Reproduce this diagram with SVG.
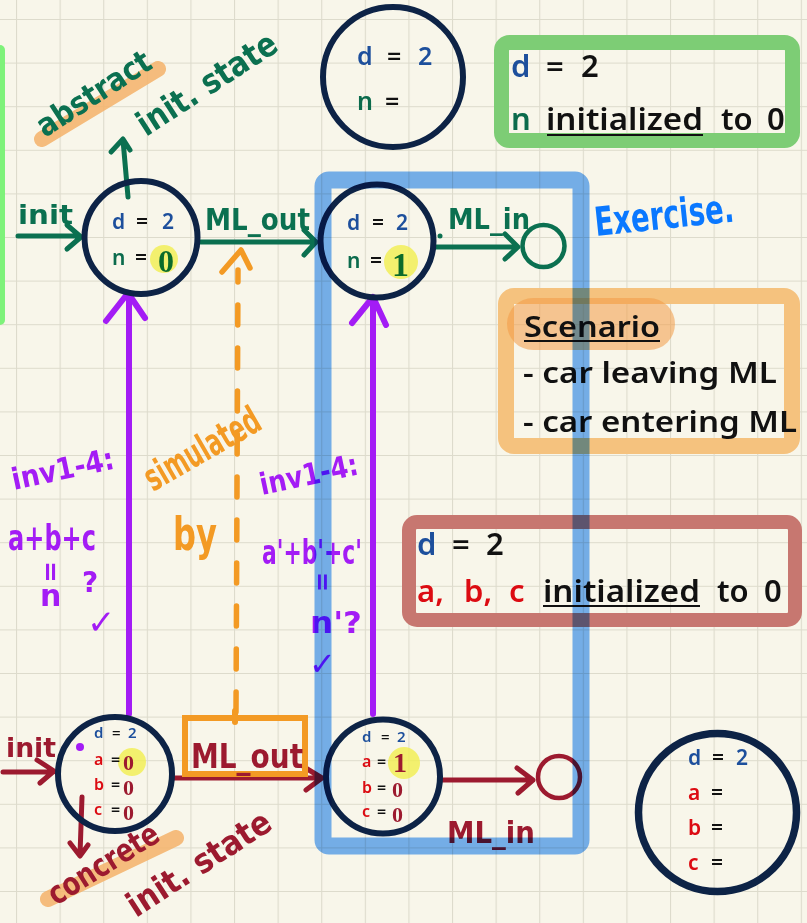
<svg xmlns="http://www.w3.org/2000/svg" width="807" height="923" viewBox="0 0 807 923">
<defs>
<pattern id="grid" x="16" y="19" width="43.6" height="43.6" patternUnits="userSpaceOnUse">
<path d="M0 0 H43.6 M0 0 V43.6" fill="none" stroke="#dddbcc" stroke-width="2.2"/>
</pattern>
<style>
.bg{fill:#f8f6ea}
.ring{fill:none;stroke:#0d2346;stroke-width:6}
.pt{font-family:"Noto Sans","Liberation Sans",sans-serif;font-weight:600}
.blu{fill:#1d4f9c}
.grn{fill:#0b6b4c}
.red{fill:#dc0b12}
.blk{fill:#111}
.hw{font-family:"DejaVu Sans","Liberation Sans",sans-serif;font-weight:bold}
.hwg{fill:#0b7050}
.hwr{fill:#9c1a2f}
.hwp{fill:#a31cf5}
.hwo{fill:#f39a24}
.lg{fill:none;stroke:#0b7050;stroke-width:5;stroke-linecap:round;stroke-linejoin:round}
.lr{fill:none;stroke:#9c1a2f;stroke-width:5;stroke-linecap:round;stroke-linejoin:round}
.lp{fill:none;stroke:#a31cf5;stroke-width:6;stroke-linecap:round;stroke-linejoin:round}
.lo{fill:none;stroke:#f39a24;stroke-width:5.5;stroke-linecap:round;stroke-linejoin:round}
.hl{fill:#f1ef4f;opacity:0.8}
.val{font-family:"Liberation Serif","DejaVu Serif",serif;font-weight:bold}
.mul{mix-blend-mode:multiply}
</style>
</defs>
<rect class="bg" x="0" y="0" width="807" height="923"/>
<rect x="0" y="0" width="807" height="923" fill="url(#grid)"/>

<!-- side green bar -->
<rect x="-6" y="45" width="11" height="280" rx="5" fill="#7ef27a"/>

<!-- legend boxes -->
<g id="box-abstract-init">
<rect x="501.5" y="42.5" width="291" height="98" rx="8" fill="none" stroke="#7dcd75" stroke-width="15"/>
<text class="pt" x="511" y="77" font-size="31"><tspan class="blu">d</tspan><tspan class="blk" x="546">=</tspan><tspan class="blk" x="581">2</tspan></text>
<text class="pt" x="511" y="130" font-size="31"><tspan class="grn">n</tspan><tspan class="blk" x="546" textLength="157" lengthAdjust="spacingAndGlyphs">initialized</tspan><tspan class="blk" x="721">to</tspan><tspan class="blk" x="767">0</tspan></text>
<line x1="547" y1="135" x2="703" y2="135" stroke="#111" stroke-width="1.8"/>
</g>

<g id="box-scenario">
<rect x="506" y="296" width="286" height="150" rx="8" fill="none" stroke="#f5c27e" stroke-width="16"/>
<rect x="507" y="298" width="168" height="52" rx="26" fill="#f29a45" opacity="0.55"/>
<text class="pt blk" x="524" y="337" font-size="29" textLength="136" lengthAdjust="spacingAndGlyphs">Scenario</text>
<line x1="524" y1="341" x2="660" y2="341" stroke="#111" stroke-width="1.8"/>
<text class="pt blk" x="523" y="383" font-size="29" textLength="254" lengthAdjust="spacingAndGlyphs">- car leaving ML</text>
<text class="pt blk" x="523" y="432" font-size="29" textLength="274" lengthAdjust="spacingAndGlyphs">- car entering ML</text>
</g>

<g id="box-concrete-init">
<rect x="409" y="522" width="386" height="98" rx="8" fill="none" stroke="#c77770" stroke-width="14"/>
<text class="pt" x="417" y="555" font-size="31"><tspan class="blu">d</tspan><tspan class="blk" x="452">=</tspan><tspan class="blk" x="486">2</tspan></text>
<text class="pt" x="417" y="602" font-size="31"><tspan class="red">a,</tspan><tspan class="red" x="464">b,</tspan><tspan class="red" x="509">c</tspan><tspan class="blk" x="543" textLength="157" lengthAdjust="spacingAndGlyphs">initialized</tspan><tspan class="blk" x="717">to</tspan><tspan class="blk" x="764">0</tspan></text>
<line x1="543" y1="606" x2="700" y2="606" stroke="#111" stroke-width="1.8"/>
</g>

<!-- handwritten annotations -->
<g id="note-abstract-init">
<line x1="42" y1="139" x2="158" y2="69" stroke="#f5b36a" stroke-width="16" stroke-linecap="round" opacity="0.85"/>
<text class="hw hwg" font-size="32" transform="translate(45,138) rotate(-33)" textLength="130" lengthAdjust="spacingAndGlyphs">abstract</text>
<text class="hw hwg" font-size="34" transform="translate(146,137) rotate(-33)" textLength="160" lengthAdjust="spacingAndGlyphs">init. state</text>
<path class="lg" d="M128 197 L123 140 M111 152 L123 139 L130 150"/>
</g>

<g id="note-exercise">
<text class="hw" fill="#0a78ff" font-size="40" transform="translate(596,236) rotate(-6)" textLength="140" lengthAdjust="spacingAndGlyphs">Exercise.</text>
</g>

<g id="note-simulated">
<text class="hw hwo" font-size="38" transform="translate(153,492) rotate(-30)" textLength="128" lengthAdjust="spacingAndGlyphs">simulated</text>
<text class="hw hwo" font-size="46" x="173" y="550" textLength="44" lengthAdjust="spacingAndGlyphs">by</text>
</g>

<g id="note-inv-left">
<text class="hw hwp" font-size="30" transform="translate(14,490) rotate(-12)" textLength="104" lengthAdjust="spacingAndGlyphs">inv1-4:</text>
<text class="hw hwp" font-size="36" x="8" y="550" textLength="88" lengthAdjust="spacingAndGlyphs">a+b+c</text>
<text class="hw hwp" font-size="26" transform="translate(42,561) rotate(90)">=</text>
<text class="hw hwp" font-size="30" x="40" y="606">n</text>
<text class="hw hwp" font-size="28" x="82" y="592">?</text>
<text class="hw hwp" font-size="34" x="87" y="634">✓</text>
</g>

<g id="note-inv-right">
<text class="hw hwp" font-size="30" transform="translate(262,495) rotate(-12)" textLength="100" lengthAdjust="spacingAndGlyphs">inv1-4:</text>
<text class="hw hwp" font-size="34" x="262" y="564" textLength="100" lengthAdjust="spacingAndGlyphs">a'+b'+c'</text>
<text class="hw hwp" font-size="24" transform="translate(314,572) rotate(90)">=</text>
<text class="hw hwp" font-size="30" x="310" y="633" textLength="52" lengthAdjust="spacingAndGlyphs">n'?</text>
<text class="hw hwp" font-size="32" x="309" y="675">✓</text>
</g>

<g id="note-concrete-init">
<line x1="48" y1="899" x2="176" y2="838" stroke="#f5b36a" stroke-width="16" stroke-linecap="round" opacity="0.85"/>
<text class="hw hwr" font-size="32" transform="translate(56,906) rotate(-32)" textLength="125" lengthAdjust="spacingAndGlyphs">concrete</text>
<text class="hw hwr" font-size="34" transform="translate(136,918) rotate(-33)" textLength="165" lengthAdjust="spacingAndGlyphs">init. state</text>
<path class="lr" d="M82 797 L80 855 M70 843 L80 856 L88 845"/>
</g>

<!-- connectors -->
<g id="connectors">
<path class="lg" d="M18 236 H80 M67 225 L81 237 L67 249"/>
<text class="hw hwg" font-size="26" x="18" y="224" textLength="55" lengthAdjust="spacingAndGlyphs">init</text>
<path class="lg" d="M200 242 H315 M304 230 L316 242 L304 255"/>
<text class="hw hwg" font-size="30" x="205" y="230" textLength="105" lengthAdjust="spacingAndGlyphs">ML_out</text>
<path class="lg" d="M434 247 H517 M505 234 L518 247 L505 259"/>
<circle cx="440" cy="236" r="2.5" fill="#0b7050"/>
<text class="hw hwg" font-size="28" x="448" y="229" textLength="82" lengthAdjust="spacingAndGlyphs">ML_in</text>

<path class="lp" d="M129 714 V296 M106 321 L128 293 L145 318"/>
<path class="lp" d="M373 714 V298 M352 323 L373 297 L386 325"/>

<path class="lo" d="M236 712 L238 270" stroke-dasharray="20 23"/>
<path class="lo" d="M222 272 L241 250 L250 268"/>

<path class="lr" d="M3 772 H53 M37 760 L54 771 L40 783"/>
<text class="hw hwr" font-size="26" x="6" y="757" textLength="50" lengthAdjust="spacingAndGlyphs">init</text>
<path class="lr" d="M172 778 H322 M304 767 L322 778 L306 790"/>
<rect x="185" y="718" width="120" height="56" fill="none" stroke="#f39a24" stroke-width="6"/>
<line x1="235" y1="711" x2="235" y2="722" stroke="#f39a24" stroke-width="6" stroke-linecap="round"/>
<text class="hw hwr" font-size="34" x="191" y="768" textLength="112" lengthAdjust="spacingAndGlyphs">ML_out</text>
<path class="lr" d="M440 780 H533 M517 768 L533 780 L518 793"/>
<text class="hw hwr" font-size="30" x="447" y="843" textLength="88" lengthAdjust="spacingAndGlyphs">ML_in</text>
</g>

<!-- nodes -->
<g id="node-abstract-template">
<circle class="ring" cx="393" cy="77" r="70"/>
<text class="pt" x="357" y="65" font-size="25"><tspan class="blu">d</tspan><tspan class="blk" x="387">=</tspan><tspan class="blu" x="418">2</tspan></text>
<text class="pt" x="357" y="110" font-size="25"><tspan class="grn">n</tspan><tspan class="blk" x="385">=</tspan></text>
</g>

<g id="node-abstract-0">
<circle class="ring" cx="141" cy="237.5" r="56.5"/>
<circle class="hl" cx="164" cy="259" r="14"/>
<text class="pt" x="112" y="229" font-size="21"><tspan class="blu">d</tspan><tspan class="blk" x="136">=</tspan><tspan class="blu" x="162">2</tspan></text>
<text class="pt" x="112" y="265" font-size="21"><tspan class="grn">n</tspan><tspan class="blk" x="135">=</tspan></text>
<text class="val" fill="#0a6b2a" x="158" y="272" font-size="32">0</text>
</g>

<g id="node-abstract-1">
<circle class="ring" cx="377" cy="241" r="56.5"/>
<circle class="hl" cx="401" cy="262" r="17"/>
<text class="pt" x="347" y="230" font-size="21"><tspan class="blu">d</tspan><tspan class="blk" x="372">=</tspan><tspan class="blu" x="396">2</tspan></text>
<text class="pt" x="347" y="268" font-size="21"><tspan class="grn">n</tspan><tspan class="blk" x="370">=</tspan></text>
<text class="val" fill="#0a6b2a" x="392" y="276" font-size="34">1</text>
</g>

<g id="node-abstract-final">
<circle cx="543.5" cy="246" r="21" fill="none" stroke="#0b7050" stroke-width="4.5"/>
</g>

<g id="node-concrete-template">
<circle cx="717.5" cy="812.5" r="79" fill="none" stroke="#0d2346" stroke-width="7.5"/>
<text class="pt" x="688" y="765" font-size="21"><tspan class="blu">d</tspan><tspan class="blk" x="712">=</tspan><tspan class="blu" x="736">2</tspan></text>
<text class="pt" x="688" y="800" font-size="21"><tspan class="red">a</tspan><tspan class="blk" x="711">=</tspan></text>
<text class="pt" x="688" y="835" font-size="21"><tspan class="red">b</tspan><tspan class="blk" x="711">=</tspan></text>
<text class="pt" x="688" y="870" font-size="21"><tspan class="red">c</tspan><tspan class="blk" x="711">=</tspan></text>
</g>

<g id="node-concrete-0">
<circle class="ring" cx="115" cy="774" r="57"/>
<circle cx="80" cy="747" r="4" fill="#a31cf5"/>
<circle class="hl" cx="132" cy="762" r="14"/>
<text class="pt" x="94" y="738" font-size="15"><tspan class="blu">d</tspan><tspan class="blk" x="112">=</tspan><tspan class="blu" x="128">2</tspan></text>
<text class="pt" x="94" y="765" font-size="16"><tspan class="red">a</tspan><tspan class="blk" x="111">=</tspan></text>
<text class="pt" x="94" y="790" font-size="16"><tspan class="red">b</tspan><tspan class="blk" x="111">=</tspan></text>
<text class="pt" x="94" y="815" font-size="16"><tspan class="red">c</tspan><tspan class="blk" x="111">=</tspan></text>
<text class="val hwr" x="123" y="770" font-size="22">0</text>
<text class="val hwr" x="123" y="795" font-size="22">0</text>
<text class="val hwr" x="123" y="820" font-size="22">0</text>
</g>

<g id="node-concrete-1">
<circle class="ring" cx="383" cy="776.5" r="57"/>
<circle class="hl" cx="404" cy="763" r="16"/>
<text class="pt" x="362" y="742" font-size="15"><tspan class="blu">d</tspan><tspan class="blk" x="381">=</tspan><tspan class="blu" x="397">2</tspan></text>
<text class="pt" x="362" y="767" font-size="16"><tspan class="red">a</tspan><tspan class="blk" x="377">=</tspan></text>
<text class="pt" x="362" y="793" font-size="16"><tspan class="red">b</tspan><tspan class="blk" x="377">=</tspan></text>
<text class="pt" x="362" y="817" font-size="16"><tspan class="red">c</tspan><tspan class="blk" x="377">=</tspan></text>
<text class="val hwr" x="393" y="772" font-size="28">1</text>
<text class="val hwr" x="392" y="797" font-size="22">0</text>
<text class="val hwr" x="392" y="822" font-size="22">0</text>
</g>

<g id="node-concrete-final">
<circle cx="559" cy="777" r="21" fill="none" stroke="#9c1a2f" stroke-width="4.5"/>
</g>

<!-- blue highlight box (translucent marker, multiplied over what lies beneath) -->
<g id="highlight-blue">
<rect class="mul" x="323" y="180" width="258" height="666" rx="6" fill="none" stroke="#77b3fb" stroke-width="17"/>
</g>
</svg>
